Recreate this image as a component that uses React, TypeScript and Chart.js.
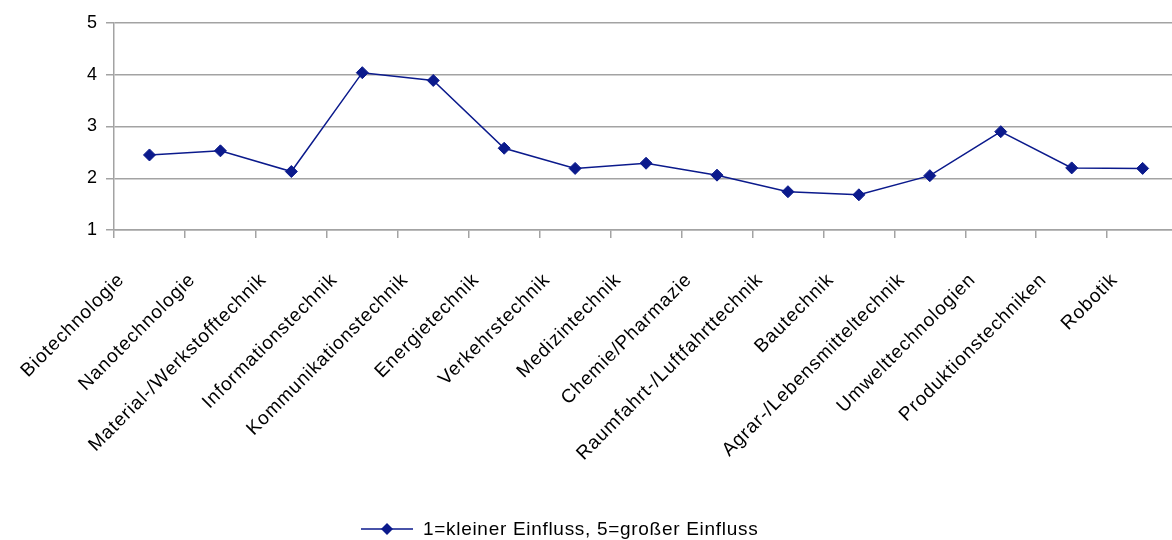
import React, { useEffect, useRef } from 'react';
import { Chart, registerables } from 'chart.js';

Chart.register(...registerables);

const categories = [
  'Biotechnologie',
  'Nanotechnologie',
  'Material-/Werkstofftechnik',
  'Informationstechnik',
  'Kommunikationstechnik',
  'Energietechnik',
  'Verkehrstechnik',
  'Medizintechnik',
  'Chemie/Pharmazie',
  'Raumfahrt-/Luftfahrttechnik',
  'Bautechnik',
  'Agrar-/Lebensmitteltechnik',
  'Umwelttechnologien',
  'Produktionstechniken',
  'Robotik',
];

const values = [2.45, 2.53, 2.13, 4.04, 3.89, 2.58, 2.19, 2.29, 2.06, 1.74, 1.68, 2.05, 2.9, 2.2, 2.19];

const yMin = 1;
const yMax = 5;
const yStep = 1;

const seriesLabel = '1=kleiner Einfluss, 5=großer Einfluss';

const LINE_COLOR = '#0b1a8c';
const GRID_COLOR = '#a3a3a3';
const FONT = '"Liberation Sans", Arial, Helvetica, sans-serif';
const LETTER_SPACING = '0.9px';
const LEGEND_SPACING = '0.7px';

const spacingPlugin = {
  id: 'letterSpacing',
  beforeInit(chart: any) {
    (chart.ctx as any).letterSpacing = LETTER_SPACING;
  },
  beforeUpdate(chart: any) {
    (chart.ctx as any).letterSpacing = LETTER_SPACING;
  },
  beforeDraw(chart: any) {
    (chart.ctx as any).letterSpacing = LETTER_SPACING;
  },
};

const legendPlugin = {
  id: 'bottomLegend',
  afterDraw(chart: any) {
    const ctx = chart.ctx as CanvasRenderingContext2D;
    const y = 529;
    const x0 = 361;
    const x1 = 413;
    const cx = (x0 + x1) / 2;
    ctx.save();
    ctx.strokeStyle = LINE_COLOR;
    ctx.lineWidth = 1.5;
    ctx.beginPath();
    ctx.moveTo(x0, y);
    ctx.lineTo(x1, y);
    ctx.stroke();
    const r = 6;
    ctx.fillStyle = LINE_COLOR;
    ctx.beginPath();
    ctx.moveTo(cx, y - r);
    ctx.lineTo(cx + r, y);
    ctx.lineTo(cx, y + r);
    ctx.lineTo(cx - r, y);
    ctx.closePath();
    ctx.fill();
    ctx.fillStyle = '#000';
    ctx.font = `19px ${FONT}`;
    (ctx as any).letterSpacing = LEGEND_SPACING;
    ctx.textBaseline = 'middle';
    ctx.textAlign = 'left';
    ctx.fillText(seriesLabel, 423, y + 1);
    ctx.restore();
  },
};

export default function App() {
  const canvasRef = useRef<HTMLCanvasElement | null>(null);

  useEffect(() => {
    if (!canvasRef.current) return;
    Chart.defaults.font.family = FONT;
    Chart.defaults.font.size = 19;
    Chart.defaults.color = '#000';

    const chart = new Chart(canvasRef.current, {
      type: 'line',
      data: {
        labels: categories,
        datasets: [
          {
            label: seriesLabel,
            data: values,
            borderColor: LINE_COLOR,
            backgroundColor: LINE_COLOR,
            borderWidth: 1.5,
            pointStyle: 'rectRot',
            pointRadius: 6,
            pointHoverRadius: 6,
            pointBackgroundColor: LINE_COLOR,
            pointBorderColor: LINE_COLOR,
            pointBorderWidth: 1,
            tension: 0,
            fill: false,
          },
        ],
      },
      options: {
        responsive: false,
        animation: false,
        layout: { padding: { top: 23, right: 3, left: 0, bottom: 0 } },
        plugins: {
          legend: { display: false },
          tooltip: { enabled: false },
        },
        scales: {
          x: {
            type: 'category',
            offset: true,
            grid: {
              drawOnChartArea: false,
              offset: true,
              tickLength: 8,
              color: GRID_COLOR,
              lineWidth: 1.5,
            },
            border: { color: GRID_COLOR, width: 1.5 },
            ticks: {
              autoSkip: false,
              maxRotation: 45,
              minRotation: 45,
              padding: 31,
              labelOffset: -28,
              color: '#000',
              font: { size: 19, family: FONT },
            },
            afterFit: (scale: any) => {
              scale.height = 310;
            },
          },
          y: {
            min: yMin,
            max: yMax,
            ticks: {
              stepSize: yStep,
              padding: 8,
              color: '#000',
              font: { size: 18, family: FONT },
            },
            grid: {
              color: GRID_COLOR,
              lineWidth: 1.5,
              tickLength: 8,
            },
            border: { color: GRID_COLOR, width: 1.5 },
            afterFit: (scale: any) => {
              scale.width = 114;
            },
          },
        },
      },
      plugins: [spacingPlugin, legendPlugin],
    });

    return () => {
      chart.destroy();
    };
  }, []);

  return (
    <div
      style={{
        position: 'fixed',
        left: 0,
        top: 0,
        width: 1172,
        height: 540,
        overflow: 'hidden',
        background: '#fff',
      }}
    >
      <canvas ref={canvasRef} width={1190} height={540} style={{ display: 'block' }} />
    </div>
  );
}
